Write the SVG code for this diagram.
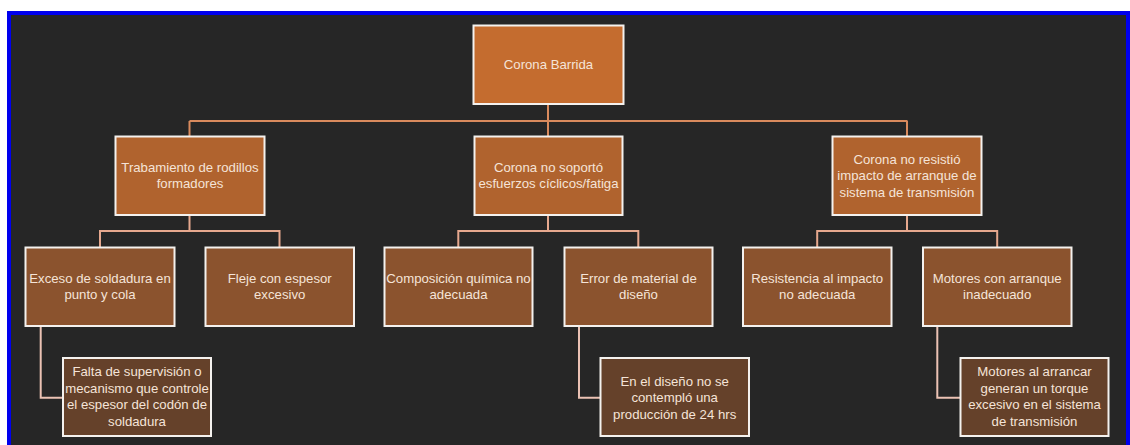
<svg xmlns="http://www.w3.org/2000/svg" width="1130" height="445" viewBox="0 0 1130 445">
<style>
.n rect{stroke:#F4F1EE;stroke-width:2}
.l1{fill:#C46C2F}
.l2{fill:#B0632E}
.l3{fill:#8B532E}
.l4{fill:#65412A}
.n text{font-family:"Liberation Sans",Arial,sans-serif;font-size:13.2px;fill:#F5E4D8;text-anchor:middle}
.c1{fill:none;stroke:#D98A5D;stroke-width:2}
.c2{fill:none;stroke:#E6A88E;stroke-width:2}
.c3{fill:none;stroke:#EBC2B4;stroke-width:2}
</style>
<rect x="0" y="0" width="1130" height="445" fill="#FFFFFF"/>
<rect x="9" y="13" width="1119" height="440" fill="#262626" stroke="#0000EE" stroke-width="4"/>
<g id="connectors">
<path class="c1" d="M548,104V121M189.5,121H907.5M189.5,121V136M548,121V136M907,121V136"/>
<path class="c2" d="M189.5,215V231M100,247V231H279.5V247"/>
<path class="c2" d="M548,215V231M458.3,247V231H638.3V247"/>
<path class="c2" d="M907,215V231M817.2,247V231H997.2V247"/>
<path class="c3" d="M40.7,326V397.7H62.7"/>
<path class="c3" d="M579,326V397.7H600"/>
<path class="c3" d="M937.3,326V397.7H960"/>
</g>
<g id="n0" class="n"><rect class="l1" x="473.5" y="25.5" width="150" height="78.5"/><text x="548.5" y="69.2">Corona Barrida</text></g>
<g id="n1" class="n"><rect class="l2" x="115.5" y="136.5" width="149" height="78.5"/><text x="190" y="172">Trabamiento de rodillos</text><text x="190" y="188">formadores</text></g>
<g id="n2" class="n"><rect class="l2" x="474.5" y="136.5" width="148" height="78.5"/><text x="548.5" y="172">Corona no soportó</text><text x="548.5" y="188">esfuerzos cíclicos/fatiga</text></g>
<g id="n3" class="n"><rect class="l2" x="832.5" y="136.5" width="149" height="78.5"/><text x="907" y="163.7">Corona no resistió</text><text x="907" y="180.2">impacto de arranque de</text><text x="907" y="196.7">sistema de transmisión</text></g>
<g id="n4" class="n"><rect class="l3" x="25.5" y="247.5" width="149" height="78.5"/><text x="100" y="283">Exceso de soldadura en</text><text x="100" y="299">punto y cola</text></g>
<g id="n5" class="n"><rect class="l3" x="205.5" y="247.5" width="148.5" height="78.5"/><text x="279.7" y="283">Fleje con espesor</text><text x="279.7" y="299">excesivo</text></g>
<g id="n6" class="n"><rect class="l3" x="384.5" y="247.5" width="148" height="78.5"/><text x="458.5" y="283">Composición química no</text><text x="458.5" y="299">adecuada</text></g>
<g id="n7" class="n"><rect class="l3" x="564.5" y="247.5" width="148" height="78.5"/><text x="638.5" y="283">Error de material de</text><text x="638.5" y="299">diseño</text></g>
<g id="n8" class="n"><rect class="l3" x="743" y="247.5" width="148.5" height="78.5"/><text x="817.2" y="283">Resistencia al impacto</text><text x="817.2" y="299">no adecuada</text></g>
<g id="n9" class="n"><rect class="l3" x="923" y="247.5" width="148.5" height="78.5"/><text x="997.2" y="283">Motores con arranque</text><text x="997.2" y="299">inadecuado</text></g>
<g id="n10" class="n"><rect class="l4" x="63" y="358" width="148" height="78"/><text x="137" y="376.2">Falta de supervisión o</text><text x="137" y="392.7">mecanismo que controle</text><text x="137" y="409.2">el espesor del codón de</text><text x="137" y="425.7">soldadura</text></g>
<g id="n11" class="n"><rect class="l4" x="600.5" y="358" width="148.5" height="78"/><text x="674.7" y="385.7">En el diseño no se</text><text x="674.7" y="402.2">contempló una</text><text x="674.7" y="418.7">producción de 24 hrs</text></g>
<g id="n12" class="n"><rect class="l4" x="960.5" y="358" width="148" height="78"/><text x="1034.5" y="376.2">Motores al arrancar</text><text x="1034.5" y="392.7">generan un torque</text><text x="1034.5" y="409.2">excesivo en el sistema</text><text x="1034.5" y="425.7">de transmisión</text></g>
</svg>
